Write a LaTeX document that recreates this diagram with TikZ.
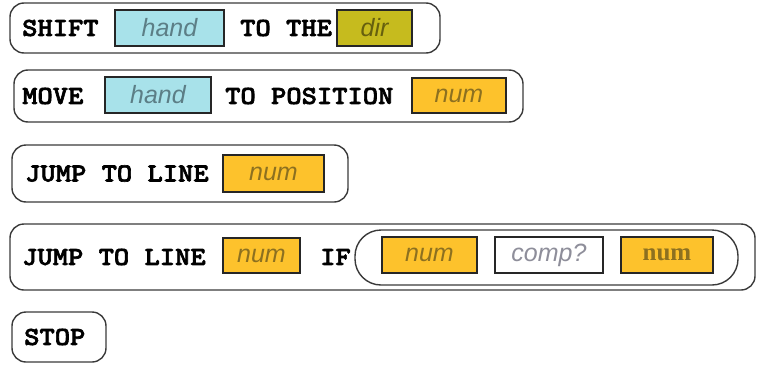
\documentclass[tikz,border=0pt]{standalone}
\usepackage{fontspec}
\newfontfamily\kwfamily[Extension=.otf,FakeStretch=1.12,FakeBold=2.5]{lmmonolt10-bold}
\newfontfamily\slotfamily{Liberation Sans}
\newfontfamily\oddfamily{Liberation Serif}

\definecolor{outline}{HTML}{3A3A3A}
\definecolor{handfill}{HTML}{A8E2EA}
\definecolor{handtext}{HTML}{5C7E86}
\definecolor{dirfill}{HTML}{C6BB1E}
\definecolor{dirtext}{HTML}{66600E}
\definecolor{numfill}{HTML}{FDC22C}
\definecolor{numtext}{HTML}{8C7020}
\definecolor{comptext}{HTML}{8E8E9A}

\tikzset{
  stmt/.style={draw=outline, line width=1.4pt, rounded corners=14pt, inner sep=0pt},
  kw/.style={anchor=west, inner sep=0pt, font=\kwfamily\fontsize{26}{26}\selectfont},
  slot/.style={draw=black!85, line width=1.6pt, minimum height=36pt, inner sep=0pt,
    font=\slotfamily\itshape\fontsize{25}{25}\selectfont},
  handslot/.style={slot, fill=handfill, text=handtext},
  dirslot/.style={slot, fill=dirfill, text=dirtext},
  numslot/.style={slot, fill=numfill, text=numtext},
  compslot/.style={slot, fill=white, text=comptext}
}

\begin{document}
\begin{tikzpicture}[x=1pt,y=-1pt]
  \useasboundingbox (0,0) rectangle (762,364);

  % shift
  \node[stmt, minimum width=430, minimum height=50] (shift) at (225,28) {};
  \node[kw] (shiftkw) at (22,28) {SHIFT};
  \node[handslot, minimum width=109] (shifthand) at (169.5,28) {hand};
  \node[kw] (shiftto) at (240,28) {TO THE};
  \node[dirslot, minimum width=75] (shiftdir) at (374.5,28) {dir};

  % move
  \node[stmt, minimum width=509, minimum height=52] (move) at (268.5,96) {};
  \node[kw] (movekw) at (22,96) {MOVE};
  \node[handslot, minimum width=106] (movehand) at (158,95) {hand};
  \node[kw] (moveto) at (225,96) {TO POSITION};
  \node[numslot, minimum width=94, minimum height=35] (movenum) at (459,95.5) {num};

  % jump
  \node[stmt, minimum width=336, minimum height=57] (jump) at (180,173.5) {};
  \node[kw] (jumpkw) at (25,173.5) {JUMP TO LINE};
  \node[numslot, minimum width=101, minimum height=37] (jumpnum) at (273.5,173.5) {num};

  % jump if
  \node[stmt, minimum width=745, minimum height=66] (jumpif) at (382.5,257) {};
  \node[kw] (jumpifkw) at (22,257) {JUMP TO LINE};
  \node[numslot, minimum width=77, minimum height=35] (jumpifnum) at (261.5,255.5) {num};
  \node[kw] (ifkw) at (320,257) {IF};
  \node[stmt, rounded corners=26pt, minimum width=383, minimum height=55] (cond) at (546.5,257.5) {};
  \node[numslot, minimum width=95] (condleft) at (429.5,255) {num};
  \node[compslot, minimum width=108] (condcomp) at (549,255) {comp?};
  \node[numslot, minimum width=92, font=\oddfamily\bfseries\fontsize{25}{25}\selectfont] (condright) at (667,255) {num};

  % stop
  \node[stmt, minimum width=94, minimum height=50] (stop) at (59,337) {};
  \node[kw] (stopkw) at (24,337) {STOP};
\end{tikzpicture}
\end{document}
